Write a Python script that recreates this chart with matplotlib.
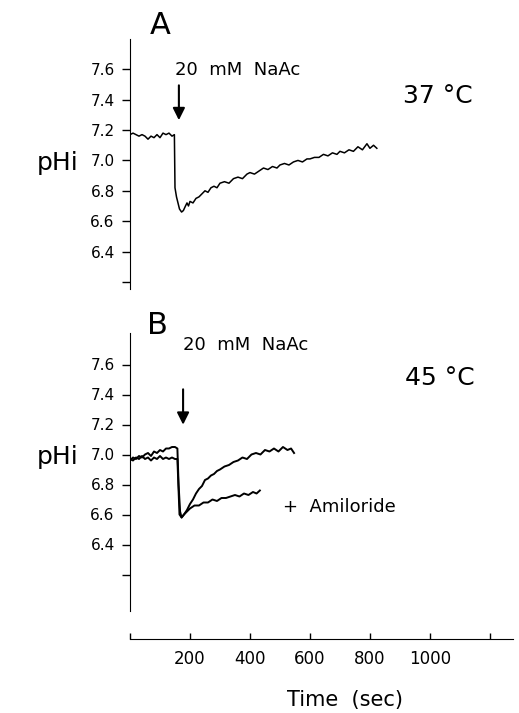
import matplotlib
matplotlib.use("Agg")
import matplotlib.pyplot as plt

# panel A, 37 C: pHi trace
t_a = [0, 10, 20, 30, 40, 50, 60, 70, 80, 90, 100, 110, 120, 130, 140, 148,
       150, 155, 160, 165, 172, 178, 185, 190, 195, 200, 210, 220, 230, 240,
       250, 260, 270, 280, 290, 300, 315, 330, 345, 360, 375, 390, 400, 415,
       430, 445, 460, 475, 490, 500, 515, 530, 545, 560, 575, 590, 600, 615,
       630, 645, 660, 675, 690, 700, 715, 730, 745, 760, 775, 790, 800, 812, 823]
ph_a = [7.17, 7.18, 7.17, 7.16, 7.17, 7.16, 7.14, 7.16, 7.15, 7.17, 7.15, 7.18, 7.17, 7.18, 7.16, 7.17,
        6.82, 6.76, 6.72, 6.68, 6.66, 6.67, 6.70, 6.72, 6.70, 6.73, 6.72, 6.75, 6.76, 6.78,
        6.80, 6.79, 6.82, 6.83, 6.82, 6.85, 6.86, 6.85, 6.88, 6.89, 6.88, 6.91, 6.92, 6.91,
        6.93, 6.95, 6.94, 6.96, 6.95, 6.97, 6.98, 6.97, 6.99, 7.00, 6.99, 7.01, 7.01, 7.02,
        7.02, 7.04, 7.03, 7.05, 7.04, 7.06, 7.05, 7.07, 7.06, 7.09, 7.07, 7.11, 7.08, 7.10, 7.08]

# panel B, 45 C: control trace
t_b1 = [0, 10, 20, 30, 40, 50, 60, 70, 80, 90, 100, 110, 120, 130, 140, 150, 158,
        162, 167, 172, 180, 190, 200, 210, 220, 230, 240, 250, 260, 270, 280, 290,
        300, 315, 330, 345, 360, 375, 390, 405, 420, 435, 450, 465, 480, 495, 510,
        525, 537, 547]
ph_b1 = [6.96, 6.98, 6.97, 6.99, 6.98, 7.00, 7.01, 6.99, 7.02, 7.01, 7.03, 7.02, 7.04, 7.04, 7.05, 7.05, 7.04,
         6.80, 6.62, 6.58, 6.60, 6.63, 6.67, 6.70, 6.74, 6.77, 6.79, 6.83, 6.84, 6.86, 6.87, 6.89,
         6.90, 6.92, 6.93, 6.95, 6.96, 6.98, 6.97, 7.00, 7.01, 7.00, 7.03, 7.02, 7.04, 7.02, 7.05,
         7.03, 7.04, 7.01]

# panel B, 45 C: + amiloride
t_b2 = [0, 10, 20, 30, 40, 50, 60, 70, 80, 90, 100, 110, 120, 130, 140, 150, 158,
        165, 172, 180, 190, 200, 215, 230, 245, 260, 275, 290, 305, 320, 335, 350,
        365, 380, 395, 410, 422, 433]
ph_b2 = [6.97, 6.96, 6.98, 6.97, 6.99, 6.97, 6.98, 6.96, 6.98, 6.97, 6.99, 6.97, 6.98, 6.97, 6.98, 6.97, 6.97,
         6.60, 6.58, 6.60, 6.62, 6.64, 6.66, 6.66, 6.68, 6.68, 6.70, 6.69, 6.71, 6.71, 6.72, 6.73,
         6.72, 6.74, 6.73, 6.75, 6.74, 6.76]

y_ticks = [6.2, 6.4, 6.6, 6.8, 7.0, 7.2, 7.4, 7.6]
y_labels = ["", "6.4", "6.6", "6.8", "7.0", "7.2", "7.4", "7.6"]
x_ticks = [0, 200, 400, 600, 800, 1000, 1200]
x_labels = ["", "200", "400", "600", "800", "1000", ""]

W, H = 519, 713
fig = plt.figure(figsize=(W / 100, H / 100), dpi=100)

def px_axes(left, top, right, bottom):
    return fig.add_axes([left / W, 1 - bottom / H, (right - left) / W, (bottom - top) / H])

ax_a = px_axes(130, 39, 513, 289)
ax_b = px_axes(130, 333, 513, 639)

for ax in (ax_a, ax_b):
    ax.set_xlim(0, 1277)
    ax.spines["top"].set_visible(False)
    ax.spines["right"].set_visible(False)
    ax.set_yticks(y_ticks)
    ax.set_yticklabels(y_labels)
    ax.tick_params(axis="y", direction="out", length=6, width=1, labelsize=11, pad=5)
    ax.set_facecolor("none")

ax_a.set_ylim(6.153, 7.8)
ax_a.spines["bottom"].set_visible(False)
ax_a.set_xticks([])
ax_a.plot(t_a, ph_a, color="black", lw=1.1)

ax_b.set_ylim(5.77, 7.81)
ax_b.spines["left"].set_bounds(5.96, 7.81)
ax_b.set_xticks(x_ticks)
ax_b.set_xticklabels(x_labels)
ax_b.tick_params(axis="x", direction="in", length=4, width=1, labelsize=12, pad=8)
ax_b.plot(t_b1, ph_b1, color="black", lw=1.4)
ax_b.plot(t_b2, ph_b2, color="black", lw=1.4)

# annotations
ax_a.text(150, 7.593, "20  mM  NaAc", fontsize=13, va="center", ha="left")
ax_a.annotate("", xy=(163, 7.247), xytext=(163, 7.513),
              arrowprops=dict(arrowstyle="-|>", color="black", lw=1.5, mutation_scale=18))
ax_a.text(910, 7.427, "37 \u00b0C", fontsize=18, va="center", ha="left")

ax_b.text(177, 7.733, "20  mM  NaAc", fontsize=13, va="center", ha="left")
ax_b.annotate("", xy=(177, 7.18), xytext=(177, 7.453),
              arrowprops=dict(arrowstyle="-|>", color="black", lw=1.5, mutation_scale=18))
ax_b.text(917, 7.513, "45 \u00b0C", fontsize=18, va="center", ha="left")
ax_b.text(510, 6.653, "+  Amiloride", fontsize=13, va="center", ha="left")

fig.text(160 / W, 1 - 25 / H, "A", fontsize=22, ha="center", va="center")
fig.text(157 / W, 1 - 325 / H, "B", fontsize=22, ha="center", va="center")
fig.text(58 / W, 1 - 163 / H, "pHi", fontsize=18, ha="center", va="center")
fig.text(58 / W, 1 - 457 / H, "pHi", fontsize=18, ha="center", va="center")
fig.text(345 / W, 1 - 700 / H, "Time  (sec)", fontsize=15, ha="center", va="center")

fig.savefig("out.png", dpi=100)
